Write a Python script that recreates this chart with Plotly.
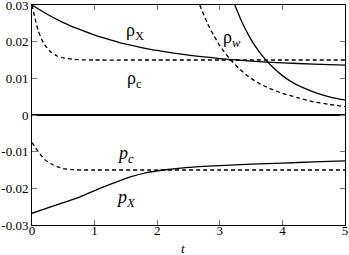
import plotly.graph_objects as go

# rho_X (solid)
t_rhoX = [0, 0.25, 0.5, 0.75, 1.0, 1.25, 1.5, 1.75, 2.0, 2.5, 3.0, 3.5, 4.0, 4.5, 5.0]
rhoX = [0.0300, 0.0274, 0.0252, 0.0234, 0.0218, 0.0205, 0.0193, 0.0184, 0.0176,
        0.0163, 0.0154, 0.0147, 0.0142, 0.0139, 0.0136]

# rho_c (dashed)
t_rhoc = [0, 0.05, 0.1, 0.15, 0.2, 0.3, 0.4, 0.5, 0.65, 0.8, 1.0, 2.0, 3.0, 4.0, 5.0]
rhoc = [0.0300, 0.0262, 0.0230, 0.0208, 0.0192, 0.0172, 0.0161, 0.0156, 0.0152,
        0.01505, 0.0150, 0.0150, 0.0150, 0.0150, 0.0150]

# rho_w dashed
t_rhow_d = [2.68, 2.8, 2.9, 3.0, 3.16, 3.3, 3.45, 3.6, 3.75, 4.0, 4.25, 4.5, 4.75, 5.0]
rhow_d = [0.0300, 0.0251, 0.0218, 0.0189, 0.0153, 0.0128, 0.0106, 0.0089, 0.0076,
          0.0059, 0.0047, 0.0036, 0.0029, 0.0023]

# rho_w solid
t_rhow_s = [3.24, 3.36, 3.46, 3.56, 3.72, 3.86, 4.01, 4.16, 4.31, 4.56, 4.81, 5.0]
rhow_s = [0.0300, 0.0251, 0.0218, 0.0189, 0.0153, 0.0128, 0.0106, 0.0089, 0.0076,
          0.0059, 0.0047, 0.0041]

# p_c (dashed)
t_pc = [0, 0.05, 0.1, 0.15, 0.2, 0.3, 0.4, 0.5, 0.65, 0.8, 1.0, 2.0, 3.0, 4.0, 5.0]
pc = [-0.0075, -0.0088, -0.0100, -0.0111, -0.0121, -0.0133, -0.0141, -0.0146,
      -0.0149, -0.0150, -0.0150, -0.0150, -0.0150, -0.0150, -0.0150]

# p_X (solid)
t_pX = [0, 0.24, 0.5, 0.77, 1.03, 1.3, 1.57, 1.83, 2.1, 2.5, 3.0, 3.5, 4.0, 4.5, 5.0]
pX = [-0.0268, -0.0254, -0.0239, -0.0223, -0.0204, -0.0186, -0.0169, -0.0157,
      -0.0150, -0.0143, -0.0138, -0.0134, -0.0131, -0.0128, -0.0125]

x_ticks = [0, 1, 2, 3, 4, 5]
y_ticks = [-0.03, -0.02, -0.01, 0, 0.01, 0.02, 0.03]
y_ticklabels = ["-0.03", "-0.02", "-0.01", "0", "0.01", "0.02", "0.03"]

FONT = "Liberation Serif, Times New Roman, serif"
DASH = "4px,3px"
LW = 1.3

fig = go.Figure()
def add(x, y, dash):
    fig.add_trace(go.Scatter(x=x, y=y, mode="lines",
                             line=dict(color="black", width=LW, dash=dash, shape="spline", smoothing=0.6),
                             showlegend=False, hoverinfo="skip"))

add(t_rhoX, rhoX, "solid")
add(t_rhoc, rhoc, DASH)
add(t_rhow_d, rhow_d, DASH)
add(t_rhow_s, rhow_s, "solid")
add(t_pc, pc, DASH)
add(t_pX, pX, "solid")

labels = [
    (1.65, 0.0229, "ρ<sub>X</sub>"),
    (3.19, 0.0210, "ρ<sub><i>w</i></sub>"),
    (1.63, 0.0096, "ρ<sub>c</sub>"),
    (1.49, -0.0109, "<i>p<sub>c</sub></i>"),
    (1.50, -0.0229, "<i>p<sub>X</sub></i>"),
]
for x, y, txt in labels:
    fig.add_annotation(x=x, y=y, text=txt, showarrow=False,
                       font=dict(family=FONT, size=18, color="black"))

# axis title t
fig.add_annotation(x=0.482, y=-0.105, xref="paper", yref="paper", text="<i>t</i>",
                   yanchor="middle", xanchor="center",
                   showarrow=False, font=dict(family=FONT, size=13, color="black"))

axis_common = dict(showline=True, linecolor="black", linewidth=1, mirror="ticks", ticks="inside",
                   ticklen=5, tickcolor="#777", tickwidth=1, showgrid=False, automargin=False,
                   ticklabeloverflow="allow",
                   tickfont=dict(family=FONT, size=13, color="black"))

fig.update_xaxes(range=[0, 5], tickvals=x_ticks, zeroline=False, ticklabelstandoff=-7, **axis_common)
fig.update_yaxes(range=[-0.03, 0.03], tickvals=y_ticks, ticktext=y_ticklabels,
                 zeroline=True, zerolinecolor="black", zerolinewidth=1.3, **axis_common)

fig.update_layout(width=349, height=255, margin=dict(l=32, r=4, t=5, b=30, autoexpand=False),
                  paper_bgcolor="white", plot_bgcolor="white",
                  font=dict(family=FONT, color="black"))

fig.write_html("out.html", config={"displayModeBar": False, "staticPlot": True},
               post_script="document.body.style.margin='0';document.body.style.padding='0';document.body.style.overflow='hidden';")
